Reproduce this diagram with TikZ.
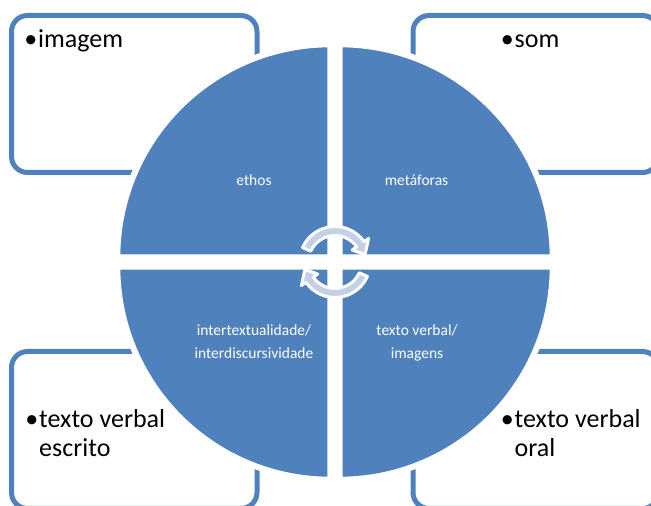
\documentclass[tikz,border=0pt]{standalone}
\usepackage{fontspec}
\setmainfont{Carlito}
\definecolor{accent}{HTML}{4F81BD}
\definecolor{arrowfill}{HTML}{C3D0E6}
\tikzset{
  panel/.style={draw=accent, line width=5pt, fill=white, rounded corners=16pt},
  quadrant/.style={fill=accent, draw=white, line width=6pt, line join=miter},
  cyclearrow/.style={fill=arrowfill, draw=white, line width=3pt, line join=round},
  boxtext/.style={anchor=base west, inner sep=0pt, text=black, font=\fontsize{26}{29}\selectfont},
  disktext/.style={anchor=base, inner sep=0pt, text=white, font=\fontsize{15.5}{23}\selectfont}
}
\begin{document}
\begin{tikzpicture}[x=1pt, y=1pt]
  \useasboundingbox (0,0) rectangle (651,506);
  \clip (0,0) rectangle (651,506);

  % corner panels
  \draw[panel] (11.5,333.5) rectangle (257,490.5);
  \draw[panel] (413,333.5) rectangle (658.5,490.5);
  \draw[panel] (11.5,-2.5) rectangle (257,154.5);
  \draw[panel] (413,-2.5) rectangle (658.5,154.5);

  \node[boxtext] (tl) at (38,458) {\llap{•\hspace{1pt}}imagem};
  \node[boxtext] (tr) at (514.5,458) {\llap{•\hspace{1pt}}som};
  \node[boxtext] (bl) at (39,78) {\begin{tabular}[t]{@{}l@{}}\llap{•\hspace{1pt}}texto verbal\\ escrito\end{tabular}};
  \node[boxtext] (br) at (514.5,78) {\begin{tabular}[t]{@{}l@{}}\llap{•\hspace{1pt}}texto verbal\\ oral\end{tabular}};

  % four quarter disks around the centre (335,244)
  \begin{scope}[shift={(335,244)}]
    \draw[quadrant] (-4.7,4.7) -- ++(-213,0) arc[start angle=180, end angle=90, radius=213] -- cycle;
    \draw[quadrant] (4.7,4.7) -- ++(0,213) arc[start angle=90, end angle=0, radius=213] -- cycle;
    \draw[quadrant] (-4.7,-4.7) -- ++(0,-213) arc[start angle=270, end angle=180, radius=213] -- cycle;
    \draw[quadrant] (4.7,-4.7) -- ++(213,0) arc[start angle=0, end angle=-90, radius=213] -- cycle;
  \end{scope}

  \node[disktext] (q1) at (254,320) {ethos};
  \node[disktext] (q2) at (416.5,320) {metáforas};
  \node[disktext] (q3) at (254,170) {\begin{tabular}[t]{@{}c@{}}intertextualidade/\\ interdiscursividade\end{tabular}};
  \node[disktext] (q4) at (417,170) {\begin{tabular}[t]{@{}c@{}}texto verbal/\\ imagens\end{tabular}};

  % circular arrows in the middle
  \begin{scope}[shift={(335,244)}]
    \draw[cyclearrow] (156:35.5) arc[start angle=156, end angle=35, radius=35.5]
      -- (35:41) -- (14:31) -- (35:21) -- (35:26.5)
      arc[start angle=35, end angle=156, radius=26.5] -- cycle;
    \draw[cyclearrow, rotate=180] (156:35.5) arc[start angle=156, end angle=35, radius=35.5]
      -- (35:41) -- (14:31) -- (35:21) -- (35:26.5)
      arc[start angle=35, end angle=156, radius=26.5] -- cycle;
  \end{scope}
\end{tikzpicture}
\end{document}
